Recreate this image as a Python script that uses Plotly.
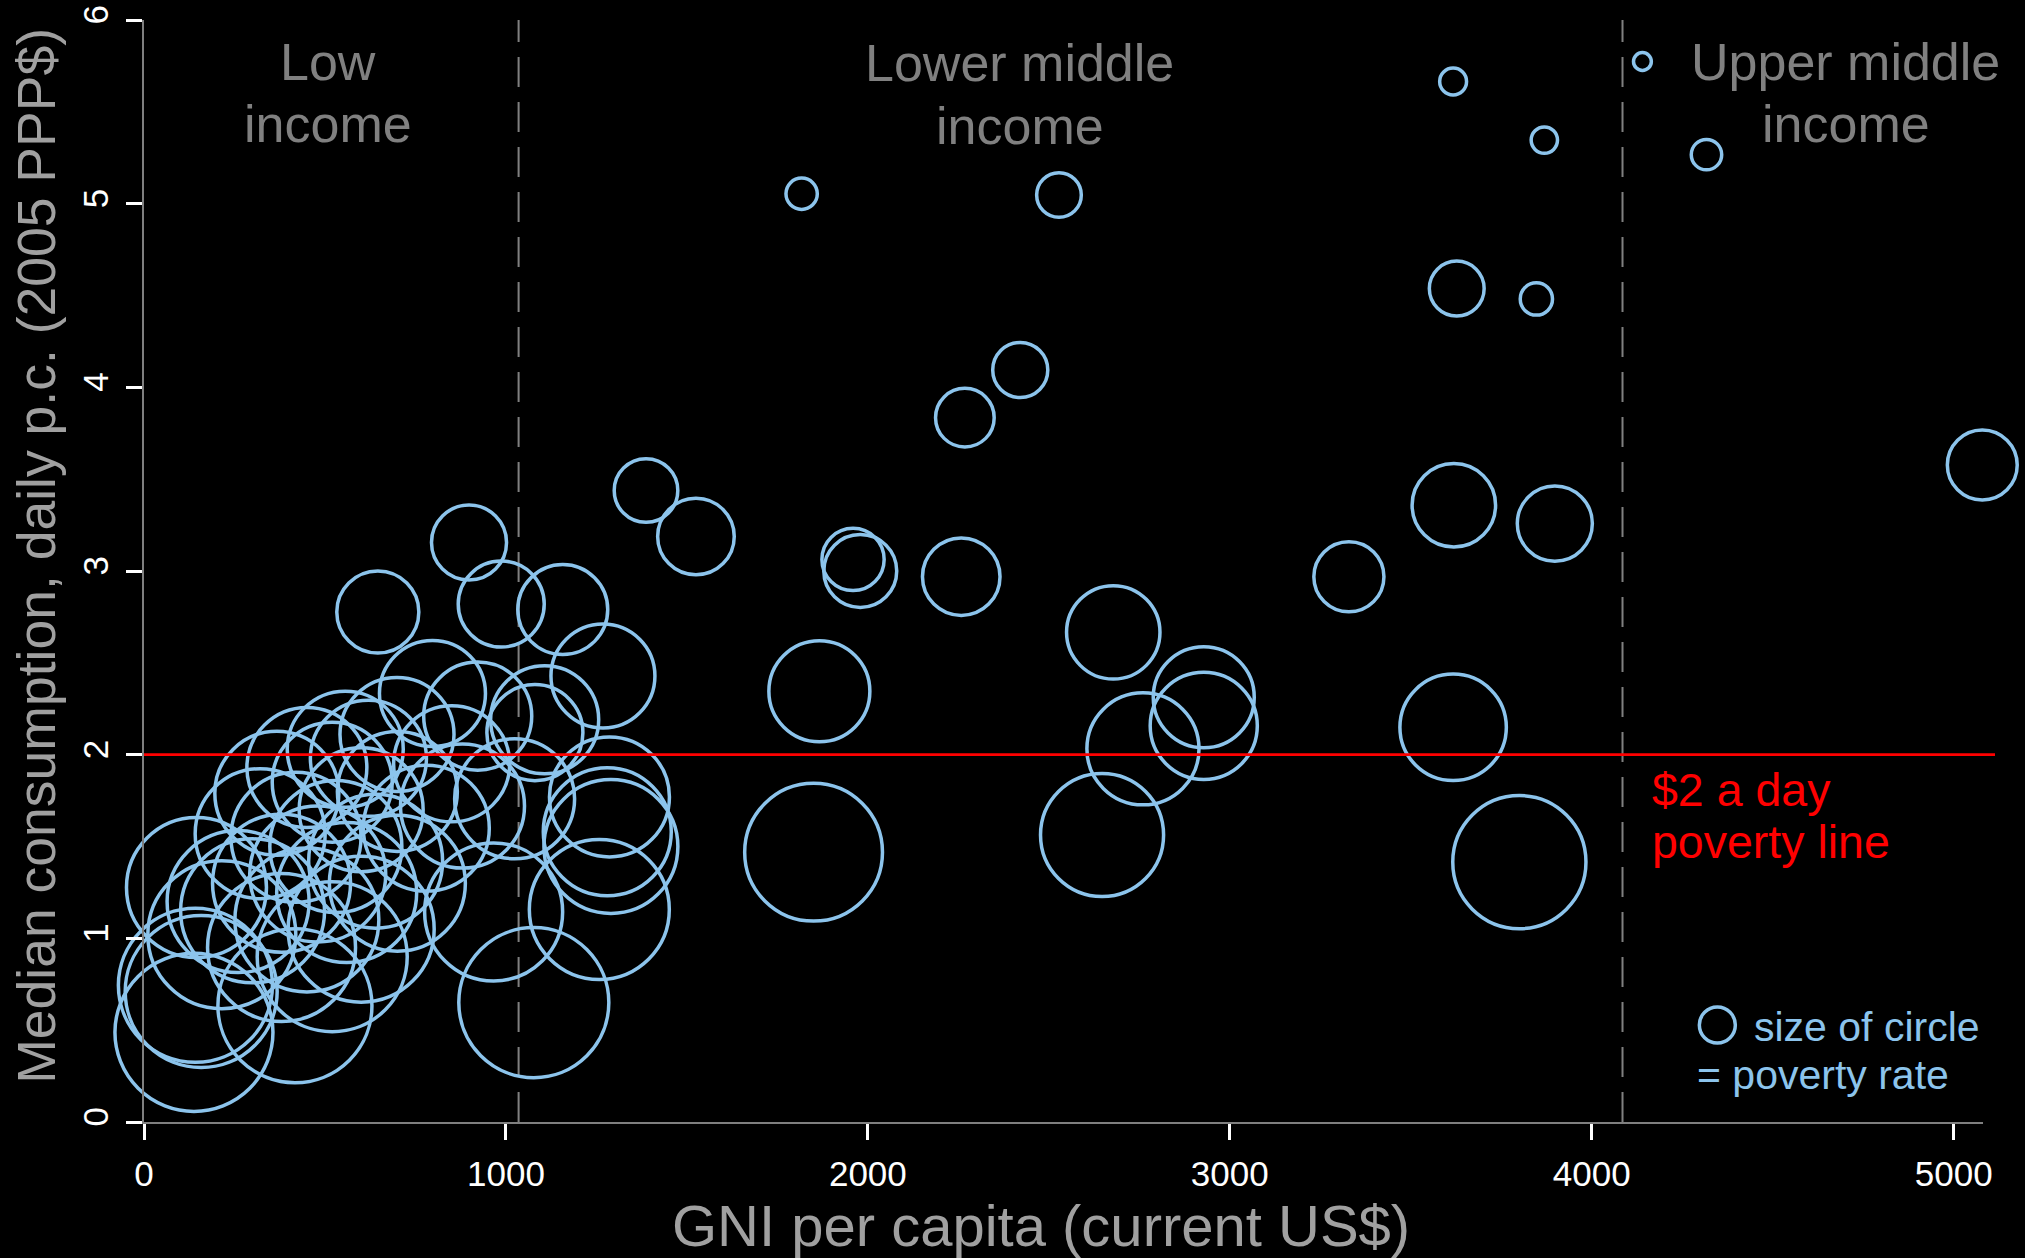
import plotly.graph_objects as go

# ---------------- data ----------------
# GNI per capita (current US$), median daily consumption (2005 PPP$), poverty rate (%)
gni = [
    1817, 2528, 3617, 3869, 4140, 4317, 3627, 3847, 2421, 2268, 5079, 1387,
    1525, 1959, 1979, 2258, 3329, 3619, 3898, 2678, 1866, 2928, 2928, 2760,
    3617, 1850, 2647, 3800,
    898, 646, 987, 1157, 1268, 797, 922, 1107, 1080, 1024, 1286, 1290, 1280,
    1258, 1077, 966, 138, 142, 158, 145, 215, 417,
    699, 556, 450, 367, 321, 620, 520, 600, 700, 780, 420, 530, 640, 480,
    380, 560, 700, 300, 450, 600, 380, 520, 260, 850, 880,
]
median_cons = [
    5.054, 5.047, 5.665, 5.346, 5.774, 5.267, 4.538, 4.481, 4.094, 3.835, 3.577, 3.438,
    3.188, 3.063, 3.000, 2.969, 2.969, 3.358, 3.258, 2.666, 2.345, 2.313, 2.157, 2.032,
    2.149, 1.469, 1.563, 1.415,
    3.155, 2.777, 2.820, 2.790, 2.428, 2.333, 2.210, 2.190, 2.120, 1.760, 1.770, 1.500, 1.580,
    1.157, 0.650, 1.144, 0.488, 0.744, 0.710, 1.277, 1.020, 0.633,
    2.110, 2.030, 1.930, 1.790, 1.570, 1.980, 1.850, 1.700, 1.800, 1.600, 1.550, 1.500, 1.420, 1.350,
    1.300, 1.250, 1.300, 1.150, 1.100, 1.050, 0.950, 0.900, 1.200, 1.950, 1.720,
]
poverty_rate = [
    3.4, 6.9, 2.5, 2.4, 1.1, 3.2, 10.4, 3.6, 10.5, 11.9, 16.9, 14.0,
    20.3, 13.4, 18.4, 20.8, 17.0, 24.1, 19.5, 30.2, 35.3, 35.3, 39.7, 43.5,
    39.2, 65.7, 52.4, 61.4,
    19.5, 23.3, 25.6, 28.0, 37.4, 38.9, 40.4, 40.4, 31.9, 49.8, 49.8, 62.1, 56.7,
    67.8, 77.9, 65.9, 86.4, 82.1, 79.9, 67.8, 75.8, 82.1,
    45.0, 46.6, 49.8, 53.2, 58.5, 46.6, 49.8, 53.2, 49.8, 54.9, 58.5, 60.3, 62.1, 64.0,
    65.9, 67.8, 64.0, 71.7, 71.7, 73.8, 75.8, 77.9, 69.8, 46.6, 53.2,
]

income_thresholds = [1035, 4085]
poverty_line = 2
x_ticks = [0, 1000, 2000, 3000, 4000, 5000]
y_ticks = [0, 1, 2, 3, 4, 5, 6]

# ---------------- style ----------------
W, H = 2025, 1258
ML, MR, MT, MB = 144, 42, 20, 136
X_MAX, Y_MAX = 5081, 6
BLUE = "#8CC4EC"
FONT = "Liberation Sans, Arial, Helvetica, sans-serif"
MAX_D = 170.0  # marker diameter for a 100% poverty rate

fig = go.Figure()
fig.add_trace(go.Scatter(
    x=gni, y=median_cons, mode="markers", cliponaxis=False, hoverinfo="skip",
    marker=dict(size=poverty_rate, sizemode="area", sizeref=2 * 100 / MAX_D ** 2,
                opacity=1, color="rgba(0,0,0,0)", line=dict(color=BLUE, width=3.5)),
    showlegend=False,
))

shapes = []
for t in income_thresholds:
    shapes.append(dict(type="line", xref="x", yref="y", x0=t, x1=t, y0=0, y1=Y_MAX,
                       line=dict(color="#808080", width=2, dash="30px,15px"), layer="below"))
plot_w = W - ML - MR
shapes.append(dict(type="line", xref="paper", yref="y", x0=0, x1=(1995 - ML) / plot_w,
                   y0=poverty_line, y1=poverty_line, line=dict(color="#FF0000", width=2.7),
                   layer="above"))
# legend circle
shapes.append(dict(type="circle", xref="x", yref="y", xsizemode="pixel", ysizemode="pixel",
                   xanchor=4347, yanchor=0.528, x0=-18, x1=18, y0=-18, y1=18,
                   line=dict(color=BLUE, width=3.5)))

GRAY = "#808080"
ann = []
def txt(x, y, s, size, color, xanchor="center", xref="x", yref="y", angle=0):
    ann.append(dict(x=x, y=y, xref=xref, yref=yref, text=s, showarrow=False,
                    xanchor=xanchor, yanchor="middle", textangle=angle,
                    font=dict(family=FONT, size=size, color=color)))

txt(507, 5.772, "Low", 52, GRAY)
txt(507, 5.432, "income", 52, GRAY)
txt(2419, 5.765, "Lower middle", 52, GRAY)
txt(2419, 5.425, "income", 52, GRAY)
txt(4702, 5.770, "Upper middle", 52, GRAY)
txt(4702, 5.432, "income", 52, GRAY)
txt(4160, 1.810, "$2 a day", 46.5, "#FF0000", xanchor="left")
txt(4160, 1.526, "poverty line", 46.5, "#FF0000", xanchor="left")
txt(4443, 0.519, "size of circle", 41, BLUE, xanchor="left")
txt(4286, 0.257, "= poverty rate", 41, BLUE, xanchor="left")
# axis titles
txt((1041 - ML) / plot_w, (1122.4 - 1225.7) / (H - MT - MB), "GNI per capita (current US$)",
    58, "#A0A0A0", xref="paper", yref="paper")
txt((37 - ML) / plot_w, 3.083, "Median consumption, daily p.c. (2005 PPP$)", 53.5, "#A0A0A0",
    xref="paper", yref="y", angle=-90)

axis_common = dict(showgrid=False, zeroline=False, showline=True, linecolor="#7F7F7F",
                   linewidth=2, ticks="outside", ticklen=16, tickwidth=2.5, tickcolor="#FFFFFF",
                   tickfont=dict(family=FONT, size=35, color="#FFFFFF"))
fig.update_layout(
    width=W, height=H, margin=dict(l=ML, r=MR, t=MT, b=MB, autoexpand=False),
    paper_bgcolor="#000000", plot_bgcolor="#000000",
    xaxis=dict(range=[0, X_MAX], tickvals=x_ticks, ticklabelstandoff=4, **axis_common),
    yaxis=dict(range=[0, Y_MAX], tickvals=y_ticks, tickangle=-90, ticklabelstandoff=4, **axis_common),
    shapes=shapes, annotations=ann, showlegend=False,
)
fig.write_html("out.html", config={"displayModeBar": False},
               post_script="document.body.style.margin='0';document.body.style.background='#000';")
